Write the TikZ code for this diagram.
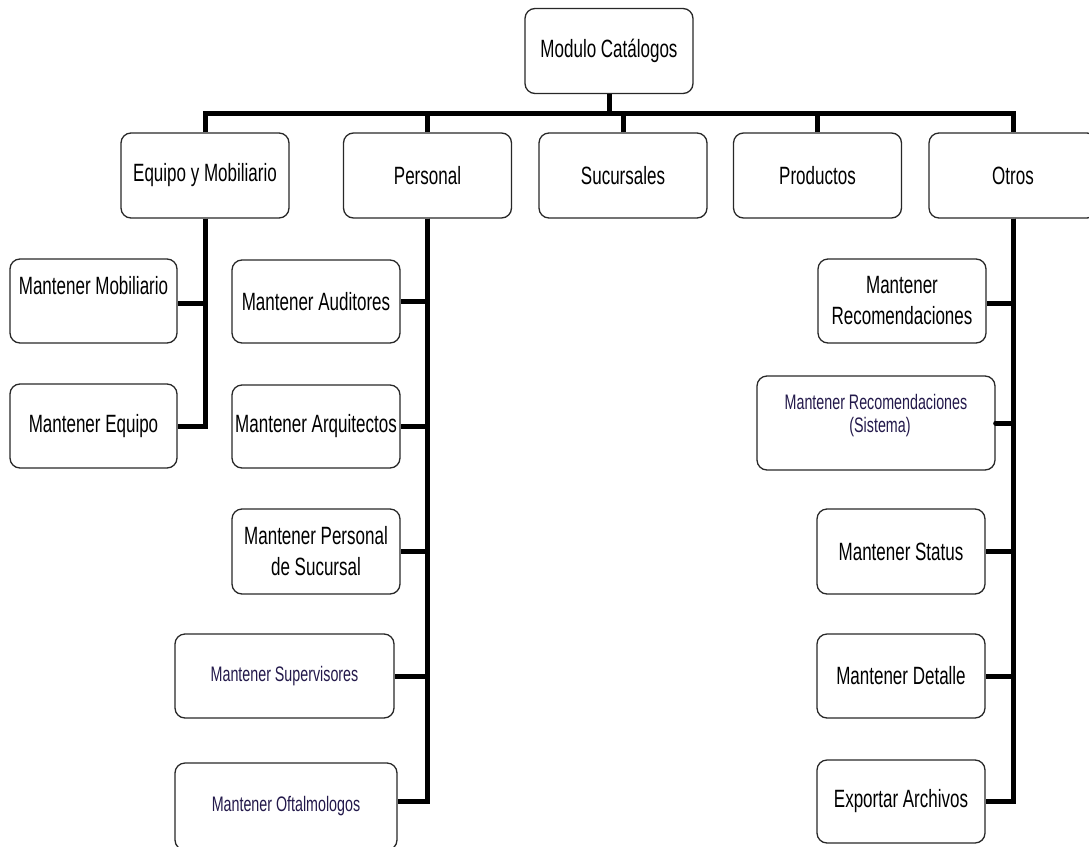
\documentclass[tikz,border=0pt]{standalone}
\usepackage{fontspec}
\setmainfont{Liberation Sans}[FakeStretch=0.68]
\definecolor{boxgray}{RGB}{40,40,40}
\definecolor{navy}{RGB}{35,25,75}
\begin{document}
\begin{tikzpicture}[x=1pt,y=-1pt,
  box/.style={draw=boxgray, line width=1.3pt, rounded corners=10pt, inner sep=0pt,
    align=center, font=\fontsize{25}{31}\selectfont, text=black, fill=white},
  sbox/.style={box, font=\fontsize{21}{23}\selectfont, text=navy},
  conn/.style={line width=5pt, black},
]
\useasboundingbox (0,0) rectangle (1089,846);
\coordinate (bar) at (609,113);

% root and first level
\node[box, minimum width=168pt, minimum height=85pt] (root) at (609,51) {Modulo Catálogos};
\node[box, minimum width=168pt, minimum height=85pt] (eq)  at (205,175.5) {Equipo y Mobiliario};
\node[box, minimum width=168pt, minimum height=85pt] (per) at (427.5,175.5) {Personal};
\node[box, minimum width=168pt, minimum height=85pt] (suc) at (623,175.5) {Sucursales};
\node[box, minimum width=168pt, minimum height=85pt] (pro) at (817.5,175.5) {Productos};
\node[box, minimum width=168pt, minimum height=85pt] (ot)  at (1013,175.5) {Otros};

% Equipo y Mobiliario children
\node[box, minimum width=167pt, minimum height=84pt] (mob) at (93.5,301) {Mantener Mobiliario\\\mbox{}};
\node[box, minimum width=167pt, minimum height=84pt] (equ) at (93.5,426) {Mantener Equipo};

% Personal children
\node[box, minimum width=168pt, minimum height=83pt] (aud) at (316,301.5) {Mantener Auditores};
\node[box, minimum width=168pt, minimum height=83pt] (arq) at (316,426.5) {Mantener Arquitectos};
\node[box, minimum width=168pt, minimum height=85pt] (pds) at (316,551.5) {Mantener Personal\\de Sucursal};
\node[sbox, minimum width=219pt, minimum height=84pt] (sup) at (284.5,676) {Mantener Supervisores};
\node[sbox, minimum width=222pt, minimum height=87pt] (oft) at (286,806.5) {Mantener Oftalmologos};

% Otros children
\node[box, minimum width=168pt, minimum height=84pt] (rec) at (902,301) {Mantener\\Recomendaciones};
\node[sbox, minimum width=238pt, minimum height=94pt] (sis) at (876,423) {Mantener Recomendaciones\\\hspace*{8pt}(Sistema)\\[-4pt]\mbox{}};
\node[box, minimum width=168pt, minimum height=85pt] (sta) at (901,551.5) {Mantener Status};
\node[box, minimum width=168pt, minimum height=84pt] (det) at (901,676) {Mantener Detalle};
\node[box, minimum width=168pt, minimum height=83pt] (exp) at (901,801.5) {Exportar Archivos};

% connectors: top level
\draw[conn] (root.south) -- (root.south |- bar);
\draw[conn] (eq.north) -- (eq.north |- bar) -- (ot.north |- bar) -- (ot.north);
\draw[conn] (per.north) -- (per.north |- bar);
\draw[conn] (suc.north) -- (suc.north |- bar);
\draw[conn] (pro.north) -- (pro.north |- bar);

% Equipo y Mobiliario
\draw[conn] (eq.south) |- ([yshift=-2pt]mob.east);
\draw[conn] (eq.south) |- (equ.east);

% Personal
\draw[conn] (per.south) |- (aud.east);
\draw[conn] (per.south) |- (arq.east);
\draw[conn] (per.south) |- (pds.east);
\draw[conn] (per.south) |- (sup.east);
\draw[conn] (per.south) |- ([yshift=5pt]oft.east);

% Otros
\draw[conn] (ot.south) |- ([yshift=-2pt]rec.east);
\draw[conn] (ot.south) |- (sis.east);
\draw[conn, line cap=round] (sis.east) -- (sis.east -| ot.south);
\draw[conn] (ot.south) |- (sta.east);
\draw[conn] (ot.south) |- (det.east);
\draw[conn] (ot.south) |- (exp.east);
\end{tikzpicture}
\end{document}
